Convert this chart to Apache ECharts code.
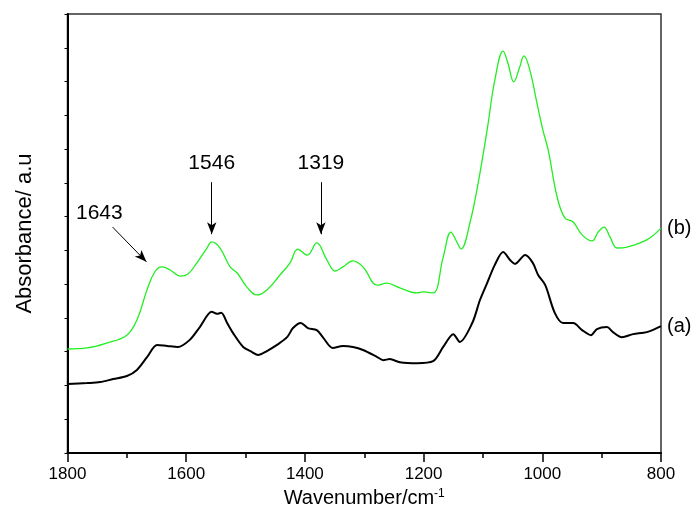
<!DOCTYPE html>
<html>
<head>
<meta charset="utf-8">
<script src="https://cdn.jsdelivr.net/npm/echarts@6/dist/echarts.min.js"></script>
<style>html,body{margin:0;padding:0;background:#fff}#c{width:694px;height:520px}</style>
</head>
<body>
<div id="c"></div>
<script>
// Wavenumber (cm-1) and absorbance for spectrum (b) - green
const wnB = [1800,1767,1733,1700,1683,1666,1653,1641,1627,1610,1597,1582,1565,1557,1543,1526,1514,1498,1481,1464,1442,1425,1412,1396,1380,1363,1349,1336,1319,1302,1278,1262,1240,1211,1201,1184,1167,1154,1144,1137,1122,1108,1093,1080,1066,1058,1048,1038,1031,1021,1009,999,990,975,962,948,933,916,906,896,886,874,857,824,800];
const absB = [0.308,0.311,0.326,0.349,0.394,0.483,0.536,0.551,0.542,0.524,0.530,0.563,0.607,0.625,0.607,0.551,0.533,0.492,0.468,0.483,0.527,0.563,0.604,0.586,0.622,0.572,0.539,0.551,0.569,0.551,0.497,0.503,0.489,0.474,0.477,0.474,0.580,0.654,0.625,0.604,0.681,0.800,0.956,1.104,1.190,1.155,1.099,1.143,1.176,1.134,1.036,0.956,0.897,0.758,0.696,0.684,0.646,0.628,0.654,0.669,0.640,0.607,0.610,0.631,0.666];
// Spectrum (a) - black
const wnA = [1800,1767,1745,1723,1700,1683,1666,1649,1632,1614,1594,1577,1557,1548,1541,1531,1521,1504,1489,1479,1464,1447,1430,1420,1407,1395,1380,1369,1353,1336,1319,1302,1278,1268,1257,1240,1211,1184,1167,1150,1139,1118,1105,1093,1080,1066,1054,1046,1029,1016,1007,995,979,965,948,933,918,908,891,881,866,847,824,800];
const absA = [0.204,0.207,0.210,0.219,0.228,0.246,0.284,0.320,0.317,0.314,0.335,0.373,0.418,0.412,0.415,0.385,0.355,0.314,0.299,0.290,0.302,0.320,0.343,0.370,0.385,0.370,0.364,0.341,0.311,0.317,0.314,0.305,0.284,0.275,0.278,0.269,0.266,0.272,0.314,0.352,0.329,0.385,0.453,0.503,0.557,0.595,0.571,0.560,0.586,0.563,0.527,0.497,0.415,0.385,0.385,0.364,0.349,0.367,0.373,0.358,0.343,0.352,0.358,0.376];
const xTicks = [1800,1600,1400,1200,1000,800];
const seriesNames = ['(a)','(b)'];
// Peak annotations: label, arrow start [wn, abs], arrow end [wn, abs]
const peakLabels = ['1643','1546','1319'];
const arrowStart = [[1724,0.669],[1557,0.802],[1373,0.802]];
const arrowEnd = [[1667,0.566],[1557,0.648],[1373,0.648]];

const FONT = '"Liberation Sans", Arial, sans-serif';
const pairs = (xs, ys) => xs.map((x,i)=>[x, ys[i]]);

const markData = peakLabels.map((t,i)=>[
  {coord: arrowStart[i], symbol:'none', label:{show:true, formatter:t, position:'start', distance: i===0 ? 19 : 8, fontSize:21, color:'#000', fontFamily:FONT}},
  {coord: arrowEnd[i], symbol:'arrow', symbolSize:[7,12]}
]);

const endMark = (xs, ys, name) => ({
  silent:true, animation:false, symbol:'circle', symbolSize:0,
  label:{show:true, position:'right', distance:6, formatter:name, fontSize:20, color:'#000', fontFamily:FONT},
  data:[{coord:[xs[xs.length-1], ys[ys.length-1]]}]
});

const chart = echarts.init(document.getElementById('c'), null, {renderer:'canvas'});
chart.setOption({
  animation:false,
  backgroundColor:'#fff',
  grid:{left:67.5, right:33, top:14, bottom:67, show:true, borderColor:'#333', borderWidth:1.5, backgroundColor:'transparent'},
  xAxis:{
    type:'value', inverse:true, min:800, max:1800, interval:200,
    name:'{a|Wavenumber/cm}{b|-1}', nameLocation:'middle', nameGap:26,
    nameTextStyle:{fontFamily:FONT, color:'#000', rich:{a:{fontSize:20, fontFamily:FONT, color:'#000'}, b:{fontSize:12, fontFamily:FONT, color:'#000', verticalAlign:'top', padding:[0,0,10,0]}}},
    axisLine:{lineStyle:{color:'#000', width:2}},
    axisTick:{show:true, inside:false, length:9, lineStyle:{color:'#000', width:1.5}},
    minorTick:{show:true, splitNumber:2, length:5, lineStyle:{color:'#000', width:1.5}},
    axisLabel:{fontSize:17, color:'#000', fontFamily:FONT, margin:13, formatter:v=> xTicks.includes(v) ? String(v) : ''},
    splitLine:{show:false}
  },
  yAxis:{
    type:'value', min:0, max:1.3, interval:0.1,
    name:'Absorbance/ a.u', nameLocation:'middle', nameGap:32,
    nameTextStyle:{fontSize:22, color:'#000', fontFamily:FONT},
    axisLine:{lineStyle:{color:'#000', width:2}},
    axisTick:{show:true, inside:false, length:3, lineStyle:{color:'#000', width:1}},
    axisLabel:{show:false},
    splitLine:{show:false}
  },
  series:[
    {name:seriesNames[0], type:'line', data:pairs(wnA, absA), showSymbol:false, smooth:0.3,
     lineStyle:{color:'#000', width:2}, itemStyle:{color:'#000'},
     markPoint:endMark(wnA, absA, seriesNames[0])},
    {name:seriesNames[1], type:'line', data:pairs(wnB, absB), showSymbol:false, smooth:0.4,
     lineStyle:{color:'#22ee22', width:1.3}, itemStyle:{color:'#22ee22'},
     markPoint:endMark(wnB, absB, seriesNames[1]),
     markLine:{silent:true, animation:false, symbol:['none','arrow'], lineStyle:{color:'#000', width:1, type:'solid'}, emphasis:{disabled:true}, data:markData}}
  ]
});
</script>
</body>
</html>
